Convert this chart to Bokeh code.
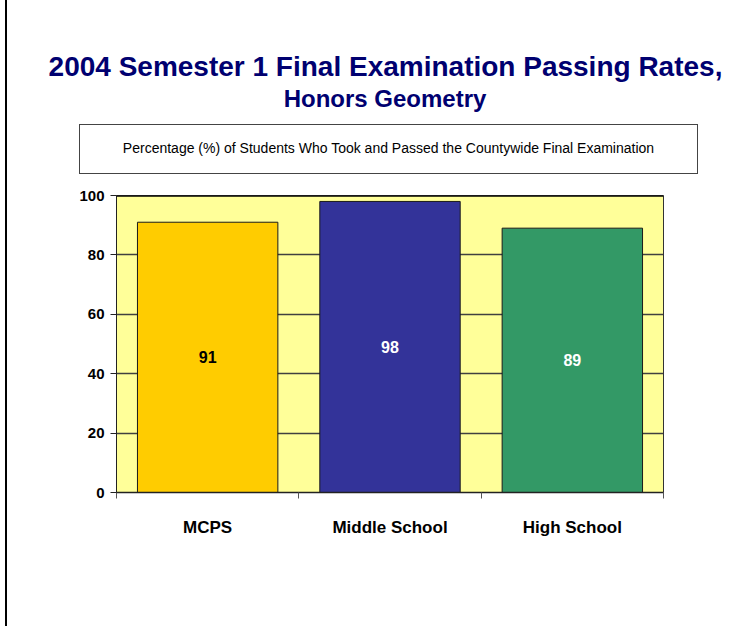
from bokeh.plotting import figure
from bokeh.layouts import column
from bokeh.models import (ColumnDataSource, FactorRange, Range1d, LinearAxis,
                          FixedTicker, Span, LabelSet, Div)
from bokeh.core.properties import value
from bokeh.embed import file_html
from bokeh.resources import INLINE

# ---- data ----
categories = ["MCPS", "Middle School", "High School"]
passing_rates = [91, 98, 89]
bar_colors = ["#FFCC00", "#333399", "#339966"]
label_colors = ["#000000", "#FFFFFF", "#FFFFFF"]
y_ticks = [0, 20, 40, 60, 80, 100]
title_text = "2004 Semester 1 Final Examination Passing Rates,"
subtitle_text = "Honors Geometry"
box_text = "Percentage (%) of Students Who Took and Passed the Countywide Final Examination"

FONT = "'Liberation Sans', Arial, sans-serif"
left_rule = {"background": "linear-gradient(to right, #ffffff 5px, #000000 5px, #000000 7px, #ffffff 7px)"}

# ---- header (title, subtitle, boxed caption) ----
header_html = f"""
<div style="position:relative;width:756px;height:185px;font-family:{FONT};">
  <div style="position:absolute;left:10px;top:53px;width:751px;text-align:center;white-space:nowrap;
              font-weight:bold;font-size:28px;line-height:28px;color:#000070;">{title_text}</div>
  <div style="position:absolute;left:14px;top:87px;width:742px;text-align:center;white-space:nowrap;
              font-weight:bold;font-size:24px;line-height:24px;color:#000070;">{subtitle_text}</div>
  <div style="position:absolute;left:79px;top:124px;width:619px;height:50px;box-sizing:border-box;
              border:1.5px solid #444444;background:#ffffff;text-align:center;white-space:nowrap;
              font-size:14px;line-height:47px;color:#000000;">{box_text}</div>
</div>
"""
header = Div(text=header_html, width=756, height=185, margin=0, styles=left_rule)

# ---- chart ----
src = ColumnDataSource(dict(
    cat=categories,
    rate=passing_rates,
    mid=[r / 2 for r in passing_rates],
    color=bar_colors,
    lc=label_colors,
    txt=[str(r) for r in passing_rates],
))

p = figure(width=756, height=441,
           x_range=FactorRange(*categories), y_range=Range1d(0, 100),
           output_backend="svg", toolbar_location=None,
           x_axis_location=None, y_axis_location="left",
           min_border_left=116, min_border_right=93,
           min_border_top=10, min_border_bottom=134, margin=0)

p.styles = left_rule
p.background_fill_color = "#FFFF99"
p.border_fill_color = None
p.outline_line_color = "#333333"
p.outline_line_width = 1

# y axis
p.yaxis.ticker = FixedTicker(ticks=y_ticks)
p.yaxis.major_label_text_font = "Liberation Sans"
p.yaxis.major_label_text_font_style = "bold"
p.yaxis.major_label_text_font_size = "15px"
p.yaxis.major_label_text_color = "#000000"
p.yaxis.major_tick_out = 6
p.yaxis.major_tick_in = 0
p.yaxis.minor_tick_out = 0
p.yaxis.minor_tick_in = 0
p.yaxis.axis_line_color = "#222222"
p.yaxis.major_tick_line_color = "#222222"
p.yaxis.major_label_standoff = 6

p.ygrid.ticker = FixedTicker(ticks=[t for t in y_ticks if 0 < t < 100])
p.ygrid.grid_line_color = "#404040"
p.ygrid.grid_line_width = 1.3
p.xgrid.visible = False

# bars
p.vbar(x="cat", top="rate", bottom=0, width=0.77, source=src,
       fill_color="color", line_color="#1a1a1a", line_width=1)

p.add_layout(Span(location=100, dimension="width", line_color="black", line_width=2.5))

# x axis: labels at category centres, tick marks at category boundaries
n = len(categories)
x_axis = LinearAxis(ticker=FixedTicker(ticks=[i + 0.5 for i in range(n)],
                                       minor_ticks=list(range(n + 1))),
                    major_label_overrides={i + 0.5: c for i, c in enumerate(categories)},
                    major_tick_line_color=None, major_tick_out=0, major_tick_in=0,
                    minor_tick_out=6, minor_tick_in=0, minor_tick_line_color="#555555",
                    axis_line_color="#222222", axis_line_width=1.5,
                    major_label_text_font="Liberation Sans",
                    major_label_text_font_style="bold",
                    major_label_text_font_size="17px",
                    major_label_text_color="#000000",
                    major_label_standoff=19)
p.add_layout(x_axis, "below")

# value labels
p.add_layout(LabelSet(x="cat", y="mid", text="txt", source=src,
                      text_color="lc", text_align="center", text_baseline="middle",
                      text_font=value("Liberation Sans"), text_font_style="bold",
                      text_font_size="16px"))

layout = column(header, p, spacing=0)
open("out.html", "w").write(file_html(layout, INLINE))
